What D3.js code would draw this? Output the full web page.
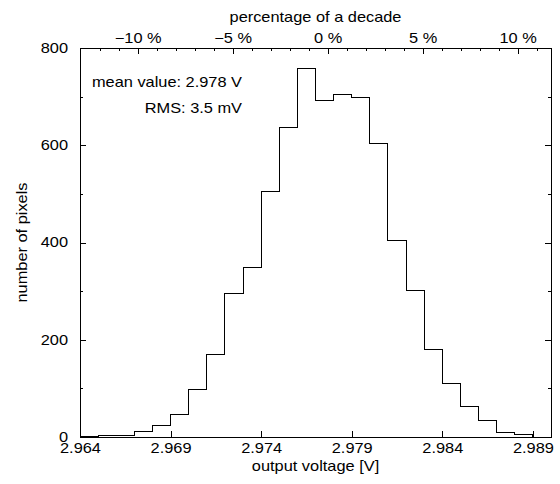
<!DOCTYPE html>
<html><head><meta charset="utf-8">
<script src="https://cdn.jsdelivr.net/npm/d3@7"></script>
<style>
body{margin:0;background:#fff}
svg text{font-family:"Liberation Sans",Arial,Helvetica,sans-serif;font-size:14px;fill:#000}
</style>
</head><body><svg id="c" width="560" height="484"></svg>
<script>
// ---- data ----
const binEdges = [2.964,2.965,2.966,2.967,2.968,2.969,2.970,2.971,2.972,2.973,2.974,2.975,2.976,
                  2.977,2.978,2.979,2.980,2.981,2.982,2.983,2.984,2.985,2.986,2.987,2.988,2.989];
const counts = [1,3,3,11,24,47,98,169,295,349,505,636,758,693,704,699,604,405,301,180,111,63,33,10,5];
const xTickValues = [2.964,2.969,2.974,2.979,2.984,2.989];
const xTickLabels = ["2.964","2.969","2.974","2.979","2.984","2.989"];
const yMajorTicks = [0,200,400,600,800];
const yMinorTicks = [100,300,500,700];
const pctMajorTicks = [-10,-5,0,5,10];
const pctMinorTicks = [-12,-11,-9,-8,-7,-6,-4,-3,-2,-1,1,2,3,4,6,7,8,9,11];
const pctZeroVoltage = 2.97767, voltsPerPercent = 0.0010486;
const xDomain = [2.964, 2.990];
const yDomain = [0, 800];
const annotations = ["mean value: 2.978 V", "RMS: 3.5 mV"];
const xTitle = "output voltage [V]";
const x2Title = "percentage of a decade";
const yTitle = "number of pixels";

// ---- layout ----
const L = 80, R = 551, T = 48, B = 437, SX = 1.17;
const svg = d3.select("#c");

const x = d3.scaleLinear().domain(xDomain).range([L, R]);
const y = d3.scaleLinear().domain(yDomain).range([B, T]);
const pct = d3.scaleLinear()
  .domain(xDomain.map(v => (v - pctZeroVoltage) / voltsPerPercent))
  .range([L, R]);

function styleAxis(g){
  g.select(".domain").remove();
  g.selectAll("line").attr("stroke","#000").attr("shape-rendering","crispEdges");
  g.selectAll("text").attr("font-family",null).attr("font-size",null);
}
svg.attr("font-family",null);

// bottom
const gB = svg.append("g").attr("transform",`translate(0,${B})`)
  .call(d3.axisBottom(x).tickValues(xTickValues).tickSizeInner(-6).tickSizeOuter(0).tickPadding(6)
        .tickFormat((d,i)=>xTickLabels[i]));
styleAxis(gB);
gB.selectAll("text").attr("transform",`scale(${SX},1)`);

// top percent axis
const gT = svg.append("g").attr("transform",`translate(0,${T})`)
  .call(d3.axisTop(pct).tickValues(pctMajorTicks).tickSizeInner(-6).tickSizeOuter(0).tickPadding(5.5)
        .tickFormat(d => d3.format("d")(d) + " %"));
styleAxis(gT);
gT.selectAll("text").attr("transform",`scale(${SX},1)`);
const gTm = svg.append("g").attr("transform",`translate(0,${T})`)
  .call(d3.axisTop(pct).tickValues(pctMinorTicks).tickSizeInner(-3).tickSizeOuter(0).tickFormat(""));
styleAxis(gTm);

// left
const gL = svg.append("g").attr("transform",`translate(${L},0)`)
  .call(d3.axisLeft(y).tickValues(yMajorTicks).tickSizeInner(-6).tickSizeOuter(0).tickPadding(12));
styleAxis(gL);
gL.selectAll("text").attr("x",-12/SX).attr("transform",`scale(${SX},1)`);
const gLm = svg.append("g").attr("transform",`translate(${L},0)`)
  .call(d3.axisLeft(y).tickValues(yMinorTicks).tickSizeInner(-3).tickSizeOuter(0).tickFormat(""));
styleAxis(gLm);

// right (mirror)
const gR = svg.append("g").attr("transform",`translate(${R},0)`)
  .call(d3.axisRight(y).tickValues(yMajorTicks).tickSizeInner(-6).tickSizeOuter(0).tickFormat(""));
styleAxis(gR);
const gRm = svg.append("g").attr("transform",`translate(${R},0)`)
  .call(d3.axisRight(y).tickValues(yMinorTicks).tickSizeInner(-3).tickSizeOuter(0).tickFormat(""));
styleAxis(gRm);

// histogram steps
const pts = [[binEdges[0],0]];
counts.forEach((c,i)=>pts.push([binEdges[i],c]));
pts.push([binEdges[binEdges.length-1],0]);
const line = d3.line().x(d=>x(d[0])).y(d=>y(d[1])).curve(d3.curveStepAfter);
svg.append("path").attr("d",line(pts)).attr("fill","none").attr("stroke","#000")
  .attr("stroke-width",1).attr("shape-rendering","crispEdges");

// frame
svg.append("rect").attr("x",L).attr("y",T).attr("width",R-L).attr("height",B-T)
  .attr("fill","none").attr("stroke","#000").attr("stroke-width",1).attr("shape-rendering","crispEdges");

// titles
svg.append("text").attr("text-anchor","middle")
  .attr("transform",`translate(${(L+R)/2},471) scale(${SX},1)`).text(xTitle);
svg.append("text").attr("text-anchor","middle")
  .attr("transform",`translate(${(L+R)/2},22) scale(${SX},1)`).text(x2Title);
svg.append("text").attr("text-anchor","middle")
  .attr("transform",`translate(27,${(T+B)/2}) rotate(-90) scale(${SX},1)`).text(yTitle);

// annotations
const annY = [87, 113];
annotations.forEach((t,i)=>{
  svg.append("text").attr("text-anchor","end")
    .attr("transform",`translate(242,${annY[i]}) scale(${SX},1)`).text(t);
});
</script>
</body></html>
